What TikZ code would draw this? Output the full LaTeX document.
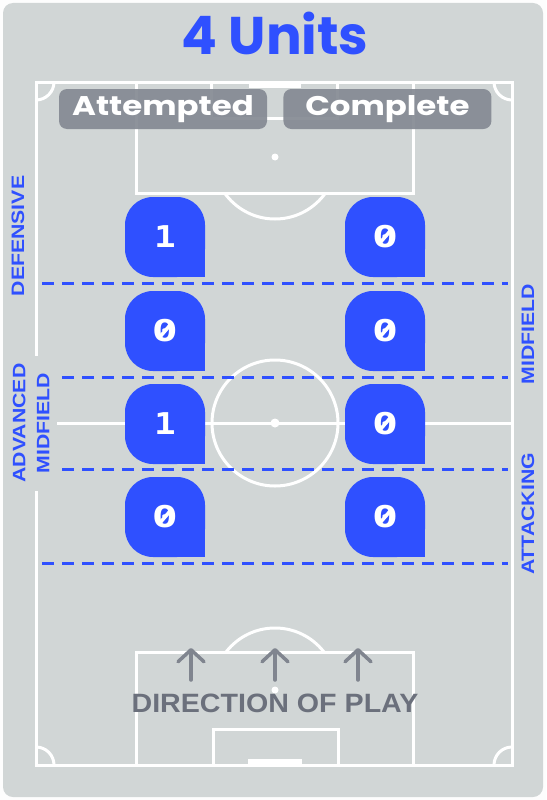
\documentclass[tikz,border=0pt]{standalone}
\usepackage{fontspec}
\setmainfont{Liberation Sans}
\newfontfamily\titlefont{Poppins}
\newfontfamily\tabfont[FakeStretch=1.2]{Poppins}
\newfontfamily\zonefont[FakeStretch=1.18]{Liberation Sans}
\newfontfamily\playfont[FakeStretch=1.08]{Liberation Sans}
\newfontfamily\digitfont[FakeStretch=1.2]{DejaVu Sans Mono}
\usetikzlibrary{arrows.meta, positioning}
\definecolor{unitblue}{HTML}{2F50FF}
\definecolor{pitchgrey}{HTML}{D1D6D6}
\definecolor{tabgrey}{HTML}{858A93}
\definecolor{playgrey}{HTML}{6B707C}
\definecolor{arrowgrey}{HTML}{80858F}
\tikzstyle{pitchline} = [draw=white, line width=3pt]
\tikzstyle{zoneline} = [draw=unitblue, line width=3pt, dash pattern=on 12pt off 8pt]
\tikzstyle{tab} = [rectangle, rounded corners=8pt, 
minimum width=208pt, 
minimum height=40pt, 
fill=tabgrey, fill opacity=0.92, text opacity=1, 
text=white, font=\tabfont\bfseries\fontsize{27}{30}\selectfont]
\tikzstyle{unitcount} = [text=white, font=\digitfont\bfseries\fontsize{30}{30}\selectfont]
\tikzstyle{zeroslash} = [draw=white, line width=3.5pt]
\tikzstyle{zonelabel} = [rotate=90, text=unitblue, align=center, 
font=\zonefont\bfseries\fontsize{18}{24}\selectfont]
\tikzstyle{playarrow} = [draw=arrowgrey, line width=3.5pt, line cap=round,
-{Straight Barb[length=12pt, width=26pt, round]}]
% badge: name, x, y, value
\newcommand{\unitbadge}[4]{%
  \fill[unitblue, rounded corners=28pt] (#2-40,#3-40) rectangle (#2+40,#3+40);
  \fill[unitblue] (#2,#3) rectangle (#2+40,#3+40);
  \ifnum#4=0
    \node[unitcount] (#1) at (#2,#3) {\scalebox{1.2}[1]{0}};
    \draw[zeroslash] (#2-6,#3+7) -- (#2+6,#3-7);
  \else
    \node[unitcount] (#1) at (#2,#3) {#4};
  \fi}

\begin{document}
\begin{tikzpicture}[x=1pt, y=-1pt]
        \useasboundingbox (0,0) rectangle (546,800);
        \fill[white!96!pitchgrey] (0,0) rectangle (546,800);
        \fill[pitchgrey, rounded corners=10pt] (3,3) rectangle (543,797);

        % Pitch
        \draw[pitchline] (36,82) rectangle (512,765);
        \draw[pitchline] (136,82) rectangle (413,193);
        \draw[pitchline] (211,82) rectangle (337,118);
        \draw[pitchline] (136,652) rectangle (413,765);
        \draw[pitchline] (213,729) rectangle (338,765);
        \fill[white] (249,82) rectangle (301,88);
        \fill[white] (248,759) rectangle (302,765);
        \draw[pitchline] (36,423) -- (512,423);
        \draw[pitchline] (275,423) circle (63);
        \fill[white] (275,423) circle (4.5);
        \fill[white] (275,157) circle (3.5);
        \fill[white] (275,690) circle (3.5);
        \begin{scope}
          \clip (0,193) rectangle (546,260);
          \draw[pitchline] (275,157) circle (62);
        \end{scope}
        \begin{scope}
          \clip (0,590) rectangle (546,652);
          \draw[pitchline] (275,690) circle (62);
        \end{scope}
        \begin{scope}
          \clip (36,82) rectangle (512,765);
          \foreach \cx/\cy in {36/82, 512/82, 36/765, 512/765}
            \draw[pitchline] (\cx,\cy) circle (18);
        \end{scope}

        % Zones
        \draw[zoneline] (42,283) -- (508,283);
        \draw[zoneline] (62,377) -- (508,377);
        \draw[zoneline] (62,469) -- (508,469);
        \draw[zoneline] (42,563) -- (508,563);

        % Nodes
        \node[anchor=base, text=unitblue, font=\titlefont\bfseries\fontsize{53}{56}\selectfont] (title) at (275,55) {4 Units};
        \node[tab] (attempted) at (163,109) {Attempted};
        \node[tab, right=16pt of attempted] (complete) {Complete};

        \node[zonelabel] (defensive) at (18,236) {DEFENSIVE};
        \node[zonelabel, fill=pitchgrey, minimum width=135pt, minimum height=52pt, inner sep=0pt] (advanced) at (31,423) {ADVANCED\\MIDFIELD};
        \node[zonelabel] (midfield) at (528,334) {MIDFIELD};
        \node[zonelabel] (attacking) at (528,514) {ATTACKING};

        \unitbadge{att1}{165}{237}{1}
        \unitbadge{att2}{165}{331}{0}
        \unitbadge{att3}{165}{424}{1}
        \unitbadge{att4}{165}{517}{0}
        \unitbadge{com1}{385}{237}{0}
        \unitbadge{com2}{385}{331}{0}
        \unitbadge{com3}{385}{424}{0}
        \unitbadge{com4}{385}{517}{0}

        % Direction of play
        \foreach \ax in {191,275,358}
          \draw[playarrow] (\ax,680) -- (\ax,648);
        \node[anchor=base, text=playgrey, font=\playfont\bfseries\fontsize{26.5}{28}\selectfont] (play) at (275,712) {DIRECTION OF PLAY};

    \end{tikzpicture}
\end{document}
